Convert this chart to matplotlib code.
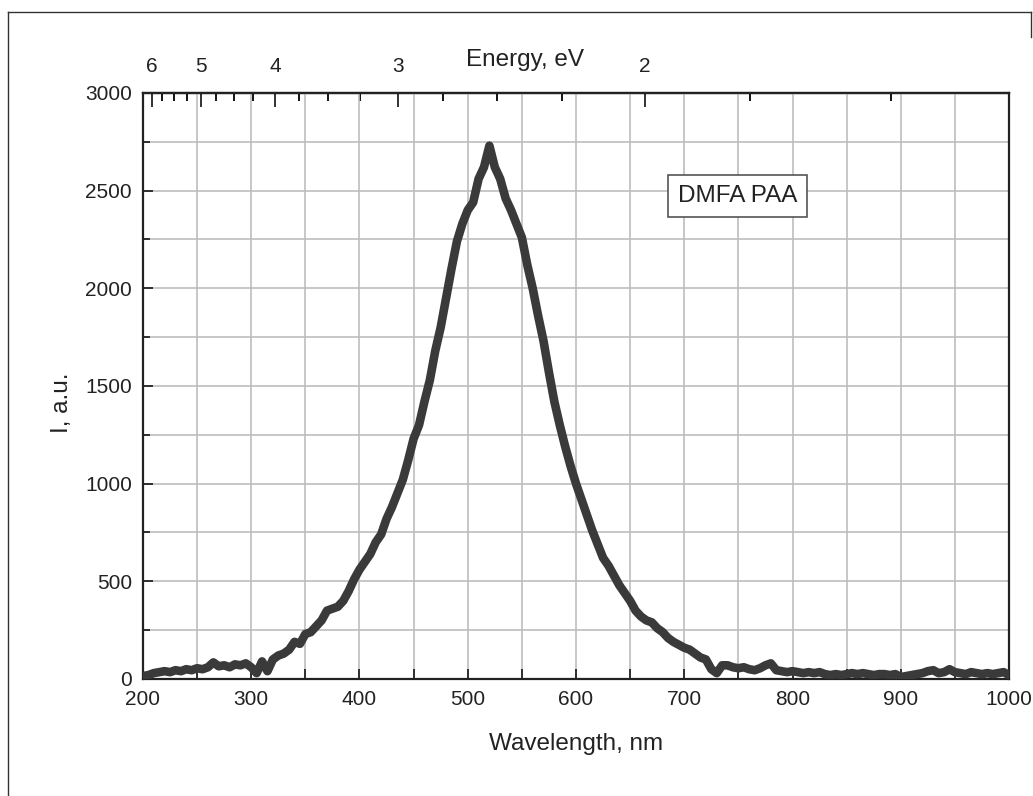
import matplotlib
matplotlib.use("Agg")
import matplotlib.pyplot as plt
from matplotlib.ticker import MultipleLocator, FixedLocator
from matplotlib.lines import Line2D

plt.rcParams['font.family'] = ['Liberation Sans', 'DejaVu Sans']

# wavelength grid (nm) and intensity
wavelength = list(range(200, 1001, 5))
intensity = [
    15, 20, 30, 35, 40, 35, 45, 40, 50, 45,            # 200-245
    55, 50, 60, 85, 65, 70, 60, 75, 70, 80,            # 250-295
    60, 30, 90, 40, 100, 120, 130, 150, 190, 180,      # 300-345
    230, 240, 270, 300, 350, 360, 370, 400, 450, 510,  # 350-395
    560, 600, 640, 700, 740, 820, 880, 950, 1020, 1120,  # 400-445
    1230, 1300, 1420, 1530, 1680, 1800, 1950, 2100, 2240, 2330,  # 450-495
    2400, 2440, 2560, 2620, 2730, 2620, 2560, 2460, 2400, 2330,  # 500-545
    2260, 2120, 2000, 1860, 1730, 1570, 1420, 1300, 1190, 1090,  # 550-595
    1000, 920, 840, 760, 690, 620, 580, 530, 480, 440,  # 600-645
    400, 350, 320, 300, 290, 260, 240, 210, 190, 175,  # 650-695
    160, 150, 130, 110, 100, 50, 30, 70, 70, 60,       # 700-745
    55, 60, 50, 45, 55, 70, 80, 45, 40, 35,            # 750-795
    40, 35, 30, 35, 30, 35, 25, 20, 25, 20,            # 800-845
    25, 30, 25, 30, 25, 20, 25, 25, 20, 25,            # 850-895
    10, 15, 20, 25, 30, 40, 45, 30, 35, 50,            # 900-945
    35, 30, 25, 35, 30, 25, 30, 25, 30, 35,            # 950-995
    20,                                                # 1000
]

energy_major = [6, 5, 4, 3, 2]
energy_minor = [5.75, 5.5, 5.25, 4.75, 4.5, 4.25, 3.75, 3.5, 3.25,
                2.75, 2.5, 2.25, 1.75, 1.5]

# empirical calibration of the top (energy) axis against wavelength
def lam_to_e(lam):
    return 1366.0 / (lam + 19.7)

def e_to_lam(e):
    return 1366.0 / e - 19.7

fig = plt.figure(figsize=(10.33, 7.96), dpi=100)
ax = fig.add_axes([0.1384, 0.1470, 0.8384, 0.7362])

ax.plot(wavelength, intensity, color='#3a3a3a', lw=6.2,
        solid_joinstyle='round', zorder=3)

ax.set_xlim(200, 1000)
ax.set_ylim(0, 3000)
ax.xaxis.set_major_locator(MultipleLocator(100))
ax.xaxis.set_minor_locator(MultipleLocator(50))
ax.yaxis.set_major_locator(MultipleLocator(500))
ax.yaxis.set_minor_locator(MultipleLocator(250))
ax.grid(True, which='both', color='#bdbdbd', lw=1.2, zorder=0)
ax.set_axisbelow(True)

ax.tick_params(which='both', direction='in', top=False, right=False,
               colors='#222222', labelsize=15, width=1.3)
ax.tick_params(axis='x', which='both', length=7, pad=8)
ax.tick_params(axis='y', which='major', length=7, pad=8)
ax.tick_params(axis='y', which='minor', length=5)
for s in ax.spines.values():
    s.set_linewidth(1.6)
    s.set_color('#222222')

ax.set_xlabel('Wavelength, nm', fontsize=17.5, color='#222222')
ax.xaxis.set_label_coords(0.5, -0.092)
ax.set_ylabel('I, a.u.', fontsize=17.5, color='#222222')
ax.yaxis.set_label_coords(-0.081, 0.471)

sec = ax.secondary_xaxis('top', functions=(lam_to_e, e_to_lam))
sec.xaxis.set_major_locator(FixedLocator(energy_major))
sec.xaxis.set_minor_locator(FixedLocator(energy_minor))
sec.set_xticklabels([str(e) for e in energy_major])
sec.tick_params(which='major', direction='in', length=10, width=1.3,
                labelsize=15, colors='#222222', pad=12)
sec.tick_params(which='minor', direction='in', length=6, width=1.3)
sec.spines['top'].set_linewidth(1.6)
ax.text(0.441, 1 + 33 / 586, 'Energy, eV', transform=ax.transAxes,
        fontsize=17.5, color='#222222', ha='center', va='center')

ax.text(749, 2473, 'DMFA PAA', fontsize=17.5, color='#222222',
        ha='center', va='center', zorder=4,
        bbox=dict(boxstyle='square,pad=0.4', fc='white', ec='#555555', lw=1.2))

# outer frame of the original figure
fc = '#333333'
fig.add_artist(Line2D([8 / 1033, 8 / 1033], [0, 1 - 12 / 796], color=fc, lw=1))
fig.add_artist(Line2D([8 / 1033, 1031 / 1033], [1 - 12 / 796, 1 - 12 / 796], color=fc, lw=1))
fig.add_artist(Line2D([1031 / 1033, 1031 / 1033], [1 - 12 / 796, 1 - 37 / 796], color=fc, lw=1))

fig.savefig('out.png', dpi=100)
